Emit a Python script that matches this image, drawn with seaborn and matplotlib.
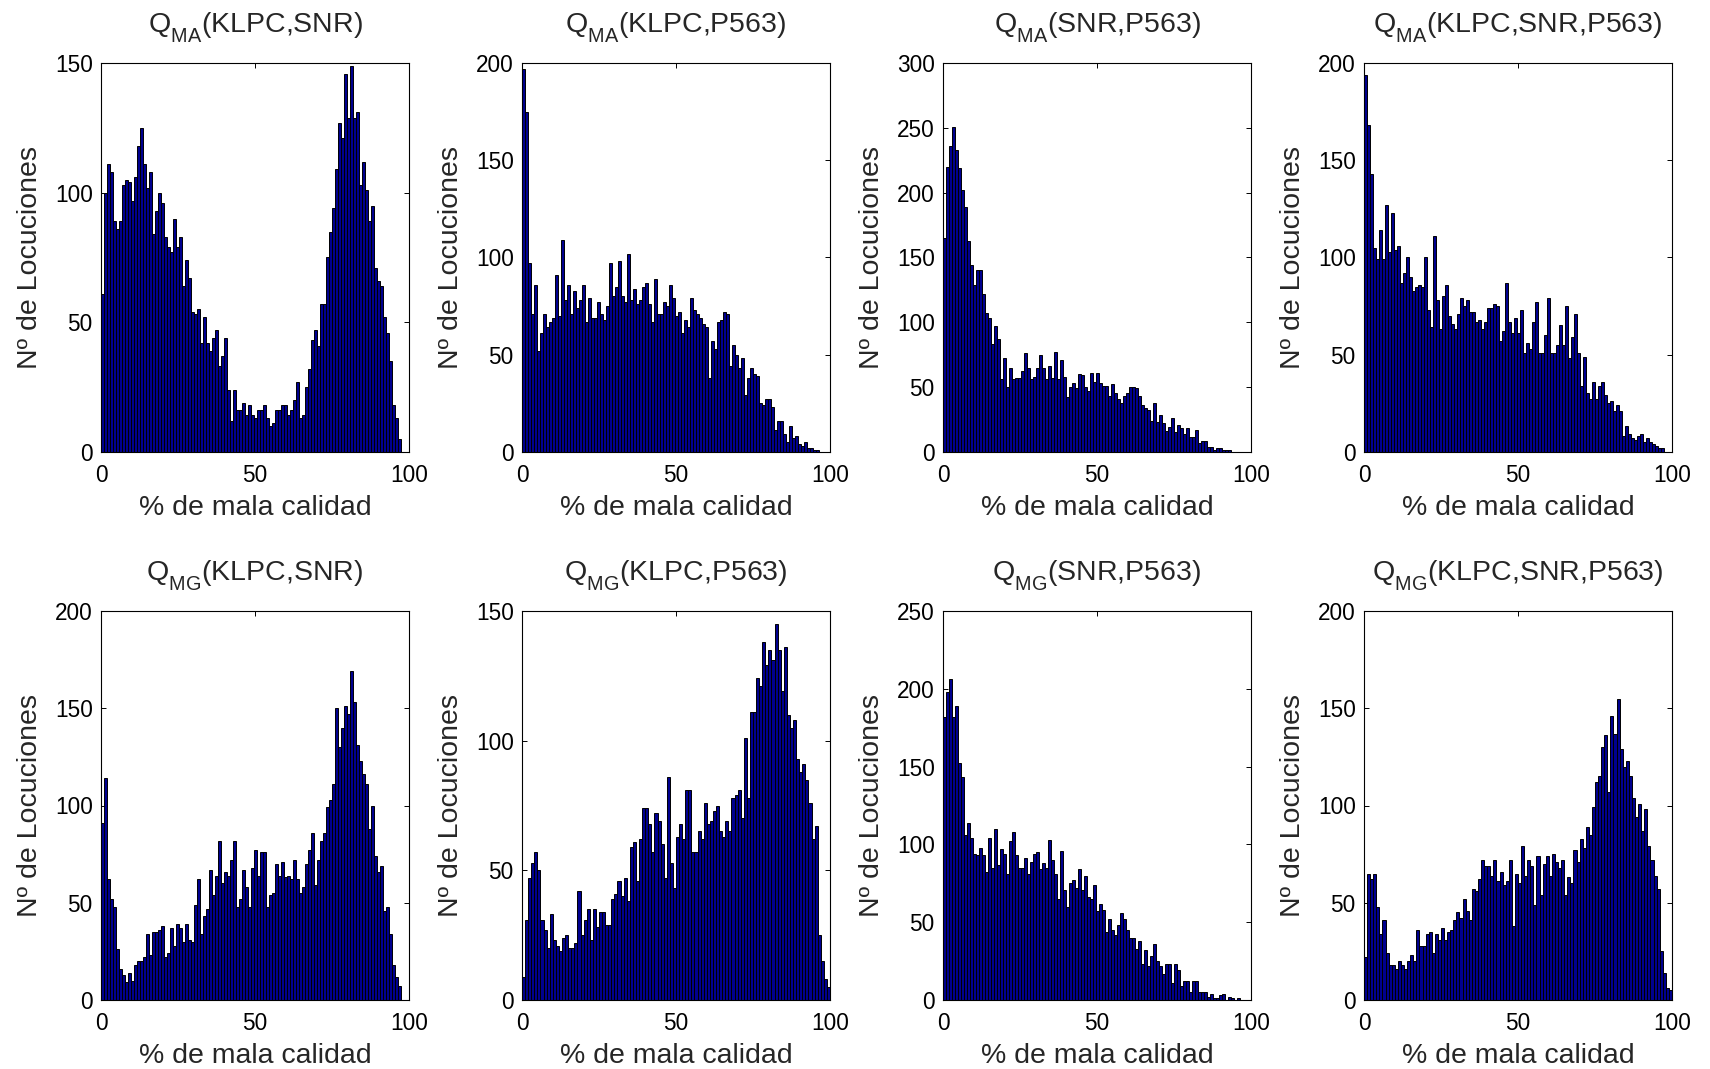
import numpy as np
import pandas as pd
import matplotlib
matplotlib.use("Agg")
import matplotlib.pyplot as plt
import seaborn as sns

# ---------------- data (counts per bin, 100 bins each) ----------------
titles = [
    r"Q$_{\mathregular{MA}}$(KLPC,SNR)", r"Q$_{\mathregular{MA}}$(KLPC,P563)",
    r"Q$_{\mathregular{MA}}$(SNR,P563)", r"Q$_{\mathregular{MA}}$(KLPC,SNR,P563)",
    r"Q$_{\mathregular{MG}}$(KLPC,SNR)", r"Q$_{\mathregular{MG}}$(KLPC,P563)",
    r"Q$_{\mathregular{MG}}$(SNR,P563)", r"Q$_{\mathregular{MG}}$(KLPC,SNR,P563)",
]

ma_klpc_snr = [61,100,111,108,89,86,89,103,105,104,
               97,106,118,125,111,102,108,84,93,100,
               96,83,79,77,90,79,83,64,74,67,
               54,53,55,42,52,42,39,44,47,33,
               37,44,24,12,24,16,16,19,14,18,
               14,13,16,16,18,13,10,11,16,16,
               18,18,14,16,20,27,13,14,25,32,
               43,47,41,57,57,75,85,94,109,127,
               121,146,129,149,129,131,103,112,101,89,
               95,71,66,64,52,46,35,18,13,5]

ma_klpc_p563 = [197,175,97,71,86,52,61,71,64,67,
                69,91,70,109,78,86,71,83,74,78,
                86,67,79,69,69,77,71,68,75,97,
                80,85,98,80,77,102,78,84,76,78,
                85,87,76,67,89,71,71,77,75,86,
                79,70,72,61,68,64,79,73,71,69,
                66,64,38,57,53,67,68,72,71,44,
                55,50,43,48,29,38,43,40,39,25,
                24,27,27,23,11,16,16,9,5,13,
                7,8,4,3,5,2,2,1,1,0]

ma_snr_p563 = [165,220,236,251,233,219,202,189,163,144,
               129,140,140,122,107,103,83,97,87,56,
               72,50,65,56,57,57,62,76,65,56,
               58,65,75,65,56,66,57,77,56,71,
               58,42,50,53,49,60,59,50,47,61,
               54,61,53,51,51,43,52,45,41,38,
               43,45,50,50,49,43,36,34,32,24,
               38,23,28,22,16,19,26,15,21,18,
               14,18,11,11,17,7,8,8,4,4,
               1,3,3,1,1,1,0,0,0,0]

ma_klpc_snr_p563 = [194,168,143,105,99,114,99,127,103,123,
                    104,106,87,92,100,90,83,85,86,85,
                    100,73,64,111,78,63,80,86,70,66,
                    63,71,79,75,78,72,72,67,68,63,
                    67,74,74,76,75,57,62,87,67,61,
                    69,61,73,51,56,53,67,77,51,51,
                    60,79,51,51,55,65,55,75,48,59,
                    71,51,34,49,30,27,36,27,34,36,
                    29,25,26,21,24,21,8,13,9,7,
                    6,8,9,5,7,5,4,3,2,2]

mg_klpc_snr = [91,114,62,52,48,26,16,13,9,14,
               10,18,20,20,22,34,23,35,35,36,
               38,22,24,37,28,39,37,30,39,31,
               30,49,62,34,43,47,67,54,64,82,
               60,66,64,72,82,48,52,67,58,48,
               68,77,64,76,76,48,54,55,70,64,
               71,63,64,62,72,62,55,58,70,77,
               86,59,72,82,86,99,103,111,150,130,
               140,151,147,169,153,131,123,116,111,88,
               100,74,66,69,46,48,34,18,12,7]

mg_klpc_p563 = [9,31,47,53,57,50,31,27,20,33,
                23,21,19,24,25,20,20,22,42,25,
                31,35,23,35,28,34,34,29,29,39,
                41,46,40,47,38,59,61,46,62,74,
                74,68,57,72,69,60,47,86,53,43,
                63,68,62,81,81,57,57,65,62,76,
                68,69,73,75,65,63,69,65,78,79,
                81,70,101,78,111,111,124,121,138,129,
                135,131,145,135,119,136,110,105,108,93,
                88,91,85,76,62,67,25,15,8,5]

mg_snr_p563 = [182,198,206,182,189,152,143,106,114,104,
               94,93,98,93,82,104,85,110,87,97,
               94,81,102,108,93,85,85,91,81,89,
               94,95,84,88,85,103,90,81,65,96,
               71,60,75,77,72,84,71,80,66,65,
               74,57,62,58,44,52,45,42,48,56,
               52,45,40,40,33,38,23,32,22,28,
               36,25,22,17,23,23,11,23,19,9,
               12,12,5,12,12,5,5,5,2,4,
               1,1,3,4,0,2,1,0,1,0]

mg_klpc_snr_p563 = [22,65,62,65,48,34,41,24,18,18,
                    16,20,18,16,20,23,20,36,28,28,
                    34,35,24,34,31,37,31,35,36,41,
                    45,42,52,46,41,57,56,62,72,69,
                    69,64,72,61,66,59,61,72,38,65,
                    60,79,64,72,69,49,74,54,70,74,
                    64,75,71,68,72,54,63,60,77,71,
                    83,78,89,85,99,112,115,130,136,107,
                    146,137,155,129,120,123,115,104,94,101,
                    87,98,79,72,64,57,25,14,6,5]

series = [ma_klpc_snr, ma_klpc_p563, ma_snr_p563, ma_klpc_snr_p563,
          mg_klpc_snr, mg_klpc_p563, mg_snr_p563, mg_klpc_snr_p563]
x_max = [97.3, 97.3, 97.3, 97.3, 97.3, 100.0, 97.3, 100.0]   # data range of each histogram
y_max = [150, 200, 300, 200, 200, 150, 250, 200]

x_ticks = [0, 50, 100]
x_label = "% de mala calidad"
y_label = "Nº de Locuciones"

# ---------------- style ----------------
sns.set_style("ticks")
plt.rcParams["font.family"] = ["Liberation Sans", "DejaVu Sans"]
plt.rcParams["mathtext.fontset"] = "custom"
plt.rcParams["mathtext.rm"] = "Liberation Sans"
plt.rcParams["mathtext.it"] = "Liberation Sans:italic"
plt.rcParams["mathtext.bf"] = "Liberation Sans:bold"
plt.rcParams["axes.linewidth"] = 0.8
plt.rcParams["axes.edgecolor"] = "black"

# lower the subscripts a bit more (MATLAB-like)
try:
    import matplotlib._mathtext as _mt
    _mt.FontConstantsBase.sub1 = 0.7
except Exception:
    pass

fig = plt.figure(figsize=(17.1, 10.69), dpi=100)

lefts = [101, 522, 943, 1364]
width_px = 308
rows = [(63.3, 451.7), (611.0, 1000.0)]
W, H = 1710.0, 1069.0

bar_color = "#00008F"

for i, counts in enumerate(series):
    r, c = divmod(i, 4)
    top, bot = rows[r]
    ax = fig.add_axes([lefts[c] / W, 1 - bot / H, width_px / W, (bot - top) / H])
    n = len(counts)
    edges = np.linspace(0, x_max[i], n + 1)
    centers = (edges[:-1] + edges[1:]) / 2
    df = pd.DataFrame({"x": centers, "w": np.asarray(counts, dtype=float)})
    sns.histplot(data=df, x="x", weights="w", bins=n, binrange=(0, x_max[i]), ax=ax,
                 color=bar_color, edgecolor="black", linewidth=0.7, alpha=1.0)
    ax.set_xlim(0, 100)
    ax.set_ylim(0, y_max[i])
    ax.set_xticks(x_ticks)
    ax.set_yticks(np.arange(0, y_max[i] + 1, 50))
    ax.tick_params(direction="in", length=3.5, width=0.7, labelsize=16.3,
                   top=True, right=True, colors="black")
    ax.tick_params(axis="x", pad=8.5)
    ax.tick_params(axis="y", pad=6)
    for s in ax.spines.values():
        s.set_visible(True)
        s.set_linewidth(0.8)
    ax.set_xlabel(x_label, fontsize=20.5, labelpad=6)
    ax.set_ylabel(y_label, fontsize=20.5, labelpad=8.5)
    ax.set_title(titles[i], fontsize=20.5, pad=22)

fig.savefig("out.png", dpi=100)
